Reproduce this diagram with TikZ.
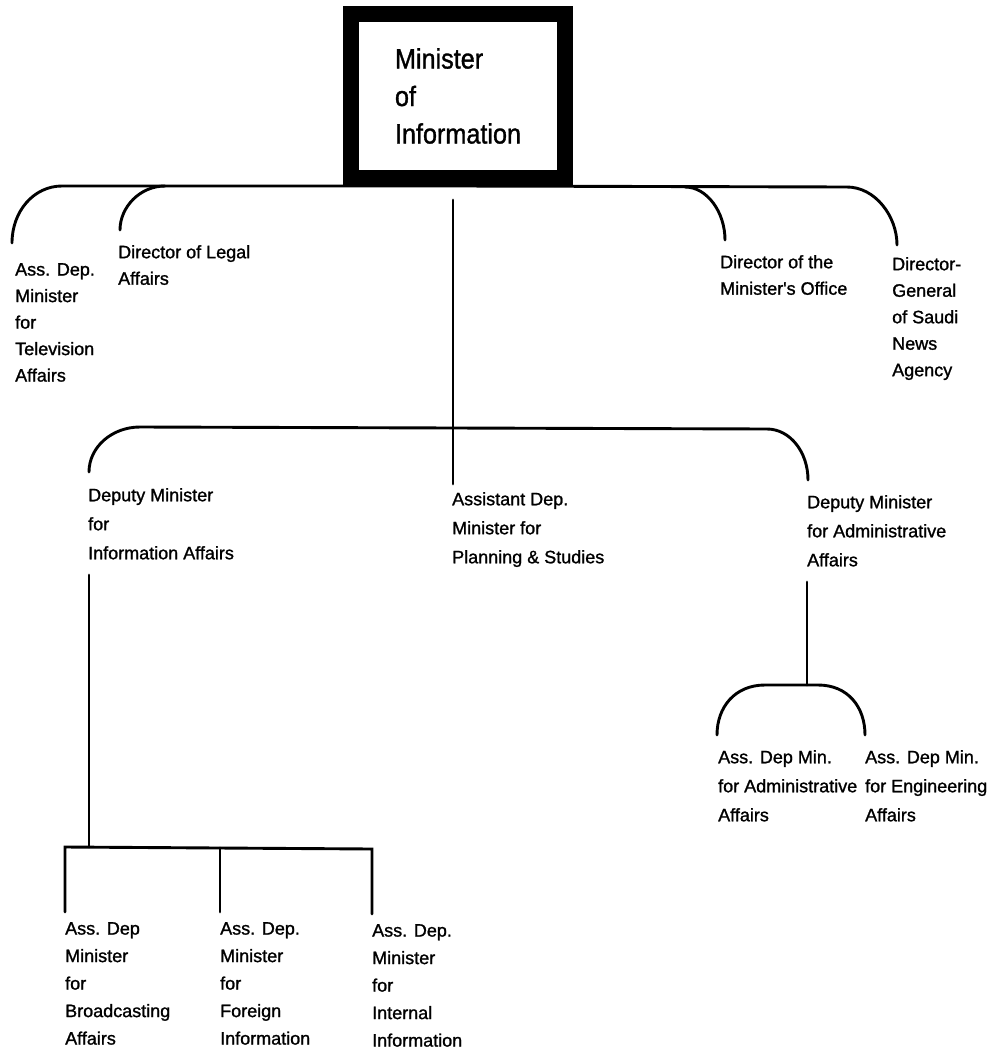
\documentclass[tikz,border=0pt]{standalone}
\usepackage{fontspec}
\setmainfont{Liberation Sans}[FakeBold=1.2]
\newfontfamily\labfont[FakeBold=1.2]{Liberation Sans}
\newfontfamily\bigfont[FakeStretch=0.9,FakeBold=1.2]{Liberation Sans}
\begin{document}
\begin{tikzpicture}[x=1pt,y=-1pt,
  conn/.style={line width=2.9pt, line cap=round},
  lab/.style={anchor=north west, inner sep=0pt, align=left, font=\labfont\fontsize{18}{26.5}\selectfont},
  labm/.style={lab, font=\labfont\fontsize{18}{29}\selectfont},
  labb/.style={lab, font=\labfont\fontsize{18}{27.5}\selectfont},
  minbox/.style={draw, line width=16pt, minimum width=214pt, minimum height=164pt, inner sep=0pt, align=left, font=\bigfont\fontsize{28}{37.5}\selectfont}]
\useasboundingbox (0,0) rectangle (987,1052);

% top box
\node[minbox] (min) at (458,96) {Minister\\of\\Information};

% first level labels
\node[lab] (tv) at (15,263) {Ass. Dep.\\Minister\\for\\Television\\Affairs};
\node[lab] (legal) at (118,245) {Director of Legal\\Affairs};
\node[lab] (office) at (720,255) {Director of the\\Minister's Office};
\node[lab] (news) at (892,257) {Director-\\General\\of Saudi\\News\\Agency};

% second level labels
\node[labm] (depinfo) at (88,488) {Deputy Minister\\for\\Information Affairs};
\node[labm] (asst) at (452,492) {Assistant Dep.\\Minister for\\Planning \& Studies};
\node[labm] (depadm) at (807,495) {Deputy Minister\\for Administrative\\Affairs};

% third level labels
\node[labm] (admmin) at (718,750) {Ass. Dep Min.\\for Administrative\\Affairs};
\node[labm] (engmin) at (865,750) {Ass. Dep Min.\\for Engineering\\Affairs};
\node[labb] (broad) at (65,922) {Ass. Dep\\Minister\\for\\Broadcasting\\Affairs};
\node[labb] (foreign) at (220,922) {Ass. Dep.\\Minister\\for\\Foreign\\Information};
\node[labb] (internal) at (372,924) {Ass. Dep.\\Minister\\for\\Internal\\Information};

% coordinates of connector ends
\coordinate (tvT) at (12,243);
\coordinate (legalT) at (120,230);
\coordinate (officeT) at (725,240);
\coordinate (newsT) at (897,245);
\coordinate (topC) at (453,200);
\coordinate (asstT) at (453,484);
\coordinate (depinfoT) at (89,472);
\coordinate (depadmT) at (808,480);
\coordinate (depinfoB) at (89,575);
\coordinate (depadmB) at (807,582);
\coordinate (admminT) at (717,735);
\coordinate (engminT) at (865,735);
\coordinate (broadT) at (65,912);
\coordinate (foreignT) at (220,912);
\coordinate (internalT) at (372,914);

% top bus
\draw[conn] (tvT) .. controls (12,211) and (34,186) .. (62,186) -- (min.south)
  -- (847,187) .. controls (875,187) and (897,216) .. (newsT);
\draw[conn] (legalT) .. controls (120,207) and (140,186) .. (165,186);
\draw[conn] (685,187) .. controls (707,187) and (725,212) .. (officeT);

% centre vertical
\draw[conn] (topC) -- (asstT);

% middle bus
\draw[conn] (depinfoT) .. controls (89,447) and (112,427) .. (140,427)
  -- (767,429) .. controls (790,429) and (808,452) .. (depadmT);

% admin branch
\draw[conn] (depadmB) -- (807,685);
\draw[conn] (admminT) .. controls (717,707) and (735,685) .. (765,685)
  -- (818,685) .. controls (848,685) and (865,707) .. (engminT);

% information branch
\draw[conn] (depinfoB) -- (89,847);
\draw[conn] (broadT) -- (65,847) -- (372,849) -- (internalT);
\draw[conn] (220,848) -- (foreignT);
\end{tikzpicture}
\end{document}
